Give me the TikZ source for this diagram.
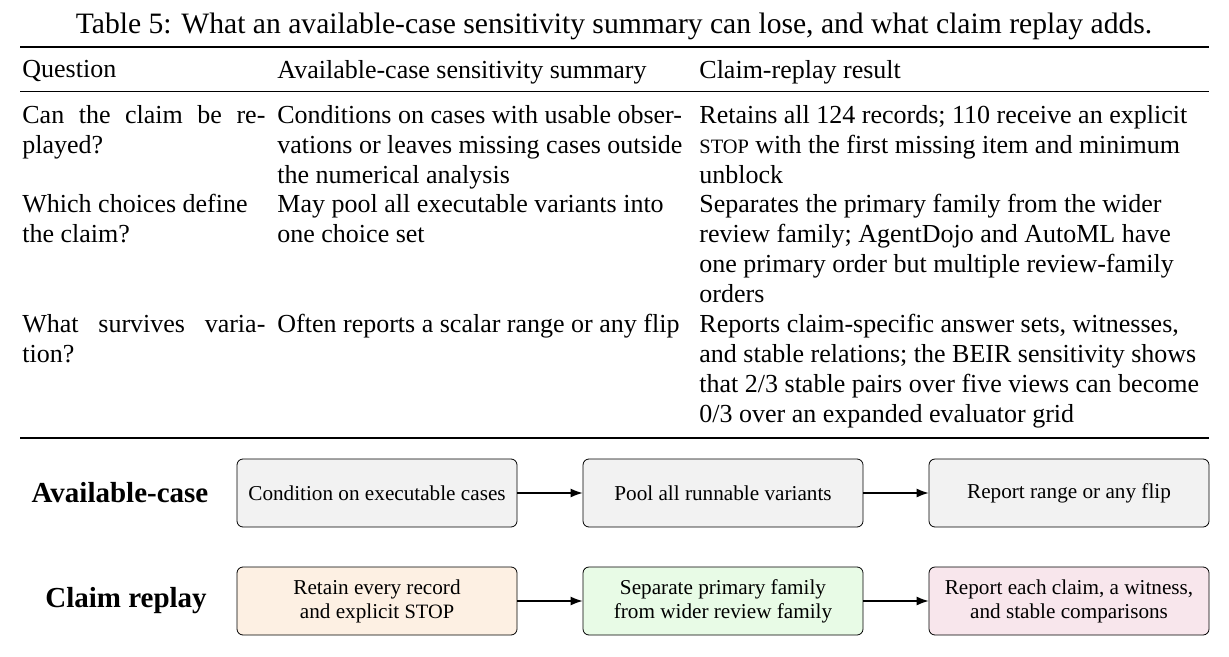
\documentclass[tikz,border=0pt]{standalone}
\usepackage{fontspec}
\setmainfont{Liberation Serif}
\usetikzlibrary{arrows.meta}
\usetikzlibrary{positioning}
\definecolor{boxgray}{HTML}{F2F2F2}
\definecolor{boxorange}{HTML}{FDF0E3}
\definecolor{boxgreen}{HTML}{E8FBE6}
\definecolor{boxpink}{HTML}{F8E6EC}
\newcommand{\stopword}{{\fontsize{10.2}{12}\selectfont STOP}}
\newcommand{\spreadline}[1]{\makebox[121.5pt][s]{#1}}
\tikzset{
  cell/.style={anchor=north west, inner sep=0pt, align=left,
    font=\fontsize{13}{15}\selectfont},
  stepbox/.style={draw, rounded corners=3pt, minimum width=140pt,
    minimum height=34pt, align=center, font=\fontsize{10.6}{12}\selectfont},
  rowlabel/.style={font=\bfseries\fontsize{14.5}{16}\selectfont},
  flow/.style={-{Latex[length=6pt]}, semithick}
}
\begin{document}
\begin{tikzpicture}[x=0.5pt,y=-0.5pt]
    \useasboundingbox (0,0) rectangle (1229,657);

    % Caption and rules
    \node[font=\fontsize{14.8}{16}\selectfont] (caption) at (614,26)
      {Table 5: What an available-case sensitivity summary can lose, and what claim replay adds.};
    \draw[line width=1pt] (20,47) -- (1209,47);
    \draw[line width=0.5pt] (20,92) -- (1209,92);
    \draw[line width=1pt] (20,438) -- (1209,438);

    % Header
    \node[cell] (hq) at (22,60) {Question};
    \node[cell] (ha) at (277,60) {Available-case sensitivity summary};
    \node[cell] (hc) at (699,60) {Claim-replay result};

    % Row 1
    \node[cell] (q1) at (22,105) {\spreadline{Can the claim be re-}\\played?};
    \node[cell] (a1) at (277,105) {Conditions on cases with usable obser-\\vations or leaves missing cases outside\\the numerical analysis};
    \node[cell] (c1) at (699,105) {Retains all 124 records; 110 receive an explicit\\\stopword{} with the first missing item and minimum\\unblock};

    % Row 2
    \node[cell] (q2) at (22,194) {Which choices define\\the claim?};
    \node[cell] (a2) at (277,194) {May pool all executable variants into\\one choice set};
    \node[cell] (c2) at (699,194) {Separates the primary family from the wider\\review family; AgentDojo and AutoML have\\one primary order but multiple review-family\\orders};

    % Row 3
    \node[cell] (q3) at (22,314) {\spreadline{What survives varia-}\\tion?};
    \node[cell] (a3) at (277,314) {Often reports a scalar range or any flip};
    \node[cell] (c3) at (699,314) {Reports claim-specific answer sets, witnesses,\\and stable relations; the BEIR sensitivity shows\\that 2/3 stable pairs over five views can become\\0/3 over an expanded evaluator grid};

    % Flow rows
    \node[rowlabel] (lavail) at (120,493) {Available-case};
    \node[rowlabel] (lreplay) at (126,601) {Claim replay};

    \node[stepbox, fill=boxgray] (av1) at (377,493) {Condition on executable cases};
    \node[stepbox, fill=boxgray] (av2) at (723,493) {Pool all runnable variants};
    \node[stepbox, fill=boxgray] (av3) at (1069,493) {Report range or any flip};

    \node[stepbox, fill=boxorange] (cr1) at (377,601) {Retain every record\\and explicit \stopword};
    \node[stepbox, fill=boxgreen] (cr2) at (723,601) {Separate primary family\\from wider review family};
    \node[stepbox, fill=boxpink] (cr3) at (1069,601) {Report each claim, a witness,\\and stable comparisons};

    \draw[flow] (av1) -- (av2);
    \draw[flow] (av2) -- (av3);
    \draw[flow] (cr1) -- (cr2);
    \draw[flow] (cr2) -- (cr3);
\end{tikzpicture}
\end{document}
